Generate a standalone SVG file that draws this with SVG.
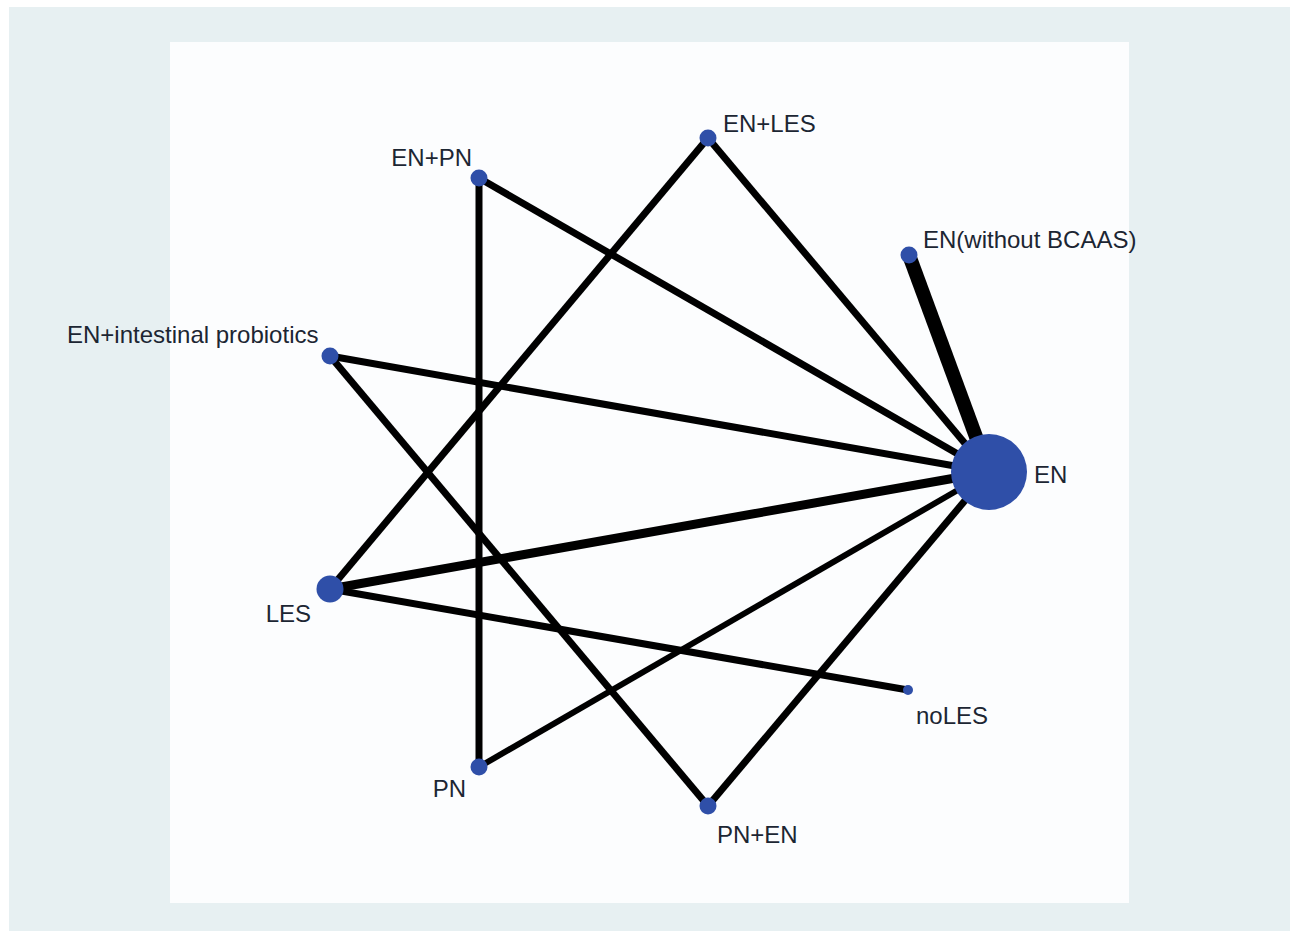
<svg xmlns="http://www.w3.org/2000/svg" width="1294" height="931" viewBox="0 0 1294 931">
<style>
.lbl{font-family:"Liberation Sans",Arial,sans-serif;font-size:24px;fill:#1c2633}
.e{stroke:#000;stroke-linecap:butt;fill:none}
.n{fill:#2f4fa8}
</style>
<rect x="0" y="0" width="1294" height="931" fill="#ffffff"/>
<rect x="9" y="7" width="1281" height="924" fill="#e7f0f2"/>
<rect x="170" y="42" width="959" height="861" fill="#fcfdfe"/>
<g id="connectors">
<line class="e" x1="909" y1="255" x2="989" y2="472" stroke-width="14"/>
<line class="e" x1="708" y1="138" x2="989" y2="472" stroke-width="7"/>
<line class="e" x1="479" y1="178" x2="989" y2="472" stroke-width="7"/>
<line class="e" x1="330" y1="356" x2="989" y2="472" stroke-width="7"/>
<line class="e" x1="330" y1="589" x2="989" y2="472" stroke-width="9"/>
<line class="e" x1="479" y1="767" x2="989" y2="472" stroke-width="6"/>
<line class="e" x1="708" y1="806" x2="989" y2="472" stroke-width="7"/>
<line class="e" x1="708" y1="138" x2="330" y2="589" stroke-width="7"/>
<line class="e" x1="479" y1="178" x2="479" y2="767" stroke-width="7"/>
<line class="e" x1="330" y1="356" x2="708" y2="806" stroke-width="7"/>
<line class="e" x1="330" y1="589" x2="908" y2="690" stroke-width="7"/>
</g>
<g id="node-EN"><circle class="n" cx="989" cy="472" r="38"/><text class="lbl" x="1034" y="483">EN</text></g>
<g id="node-EN-without-BCAAS"><circle class="n" cx="909" cy="255" r="8.5"/><text class="lbl" x="923" y="248">EN(without BCAAS)</text></g>
<g id="node-EN-LES"><circle class="n" cx="708" cy="138" r="8.5"/><text class="lbl" x="723" y="132">EN+LES</text></g>
<g id="node-EN-PN"><circle class="n" cx="479" cy="178" r="8.5"/><text class="lbl" x="472" y="166" text-anchor="end">EN+PN</text></g>
<g id="node-EN-probiotics"><circle class="n" cx="330" cy="356" r="8.5"/><text class="lbl" x="67" y="343">EN+intestinal probiotics</text></g>
<g id="node-LES"><circle class="n" cx="330" cy="589" r="13.5"/><text class="lbl" x="311" y="622" text-anchor="end">LES</text></g>
<g id="node-noLES"><circle class="n" cx="908" cy="690" r="5"/><text class="lbl" x="916" y="724">noLES</text></g>
<g id="node-PN"><circle class="n" cx="479" cy="767" r="8.5"/><text class="lbl" x="466" y="797" text-anchor="end">PN</text></g>
<g id="node-PN-EN"><circle class="n" cx="708" cy="806" r="8.5"/><text class="lbl" x="717" y="843">PN+EN</text></g>
</svg>
